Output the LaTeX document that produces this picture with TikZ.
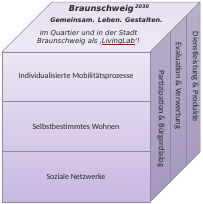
\documentclass[tikz,border=0pt]{standalone}
\usepackage{fontspec}
\setmainfont{Carlito}
\newfontfamily\verd{DejaVu Sans}[ItalicFont={DejaVu Sans Oblique},BoldItalicFont={DejaVu Sans Bold Oblique},BoldFont={DejaVu Sans Bold}]
\begin{document}
\begin{tikzpicture}[x=1pt,y=-1pt]
\definecolor{edgec}{HTML}{8E8A9E}
\definecolor{frontT}{HTML}{ECE6F5}
\definecolor{frontB}{HTML}{C8B8E1}
\definecolor{topT}{HTML}{E6E0F0}
\definecolor{topB}{HTML}{EEE9F6}
\definecolor{sideT}{HTML}{B9AFCB}
\definecolor{sideB}{HTML}{A597BF}
\definecolor{txt}{HTML}{262626}
\tikzset{
  face/.style={draw=edgec,line width=0.5pt,line join=round},
  faint/.style={draw=edgec!60,line width=0.3pt},
  fronttext/.style={font=\fontsize{8}{9}\selectfont,text=txt},
  sidetext/.style={font=\fontsize{8.5}{9}\selectfont,text=txt,rotate=-90},
  toptext/.style={text=txt,align=center}
}
\newcommand{\redul}[1]{\setbox0\hbox{#1}\rlap{\color{red!80!black}\raisebox{-1.1pt}{\rule{\wd0}{0.3pt}}}\box0}
\useasboundingbox (0,0) rectangle (203,204);
% faces
\shade[top color=topT,bottom color=topB] (2,52) -- (150,52) -- (200,2) -- (52,2) -- cycle;
\draw[face] (2,52) -- (150,52) -- (200,2) -- (52,2) -- cycle;
\shade[top color=sideT,bottom color=sideB] (150,52) -- (200,2) -- (200,152) -- (150,202) -- cycle;
\draw[face] (150,52) -- (200,2) -- (200,152) -- (150,202) -- cycle;
\shade[top color=frontT,bottom color=frontB] (2,52) rectangle (150,202);
\draw[face] (2,52) rectangle (150,202);
% front divisions
\draw[face] (2,101) -- (150,101);
\draw[face] (2,151) -- (150,151);
% side strips
\draw[face] (170,32) -- (170,182);
\draw[face] (186,16) -- (186,166);
\draw[faint] (150,101) -- (200,51);
\draw[faint] (150,151) -- (200,101);
% front texts
\node[fronttext] (f1) at (76,76.5) {Individualisierte Mobilitätsprozesse};
\node[fronttext] (f2) at (76,126.5) {Selbstbestimmtes Wohnen};
\node[fronttext] (f3) at (76,176.5) {Soziale Netzwerke};
% side texts
\node[sidetext] (s1) at (161,119) {Partizipation \& Bürgerdialog};
\node[sidetext] (s2) at (178,86) {Evaluation \& Verwertung};
\node[sidetext] (s3) at (195,77) {Dienstleistung \& Produkte};
% top texts
\node[toptext,font=\verd\bfseries\itshape\fontsize{8.2}{9}\selectfont] (t1) at (109,9) {Braunschweig\,\raisebox{2.5pt}{\fontsize{5}{5}\selectfont 2030}};
\node[toptext,font=\verd\bfseries\itshape\fontsize{6.4}{7}\selectfont] (t2) at (106.5,20) {Gemeinsam. Leben. Gestalten.};
\node[toptext,font=\verd\itshape\fontsize{6.9}{7.6}\selectfont] (t3) at (88.5,37.5) {im Quartier und in der Stadt\\Braunschweig als ‚\redul{LivingLab}‘!};
\end{tikzpicture}
\end{document}
